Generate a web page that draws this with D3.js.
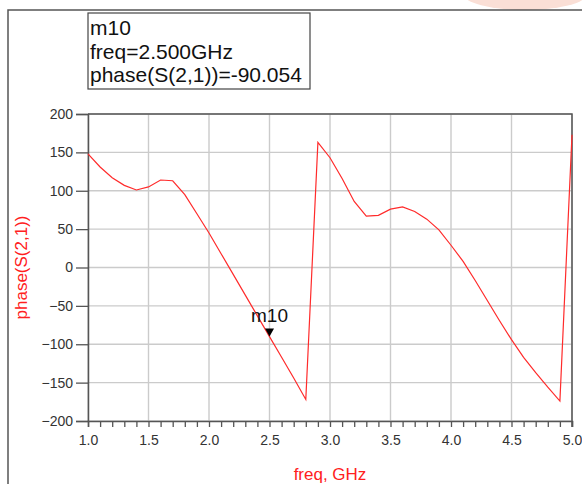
<!DOCTYPE html>
<html>
<head>
<meta charset="utf-8">
<script src="https://cdn.jsdelivr.net/npm/d3@7"></script>
<style>
  body { margin: 0; background: #fff; }
  svg { display: block; font-family: "Liberation Sans", Arial, sans-serif; }
</style>
</head>
<body>
<div id="chart"></div>
<script>
// frequency points (GHz) and phase(S(2,1)) in degrees
let freqs = [1.0, 1.1, 1.2, 1.3, 1.4, 1.5, 1.6, 1.7, 1.8, 1.9,
    2.0, 2.1, 2.2, 2.3, 2.4, 2.5, 2.6, 2.7, 2.8, 2.9,
    3.0, 3.1, 3.2, 3.3, 3.4, 3.5, 3.6, 3.7, 3.8, 3.9,
    4.0, 4.1, 4.2, 4.3, 4.4, 4.5, 4.6, 4.7, 4.8, 4.9, 5.0];
let phases = [148, 131, 117, 107, 101, 105, 114, 113, 95, 70,
    45, 18, -9, -36, -63, -90, -117, -144, -172, 163,
    143, 116, 86, 67, 68, 76, 79, 73, 63, 49,
    29, 8, -17, -43, -69, -94, -117, -137, -156, -174, 173];

let xTicks = [1.0, 1.5, 2.0, 2.5, 3.0, 3.5, 4.0, 4.5, 5.0];
let yTicks = [-200, -150, -100, -50, 0, 50, 100, 150, 200];

// marker m10
let markerName = "m10";
let markerFreq = 2.5;
let markerPhase = -90.054;

var width = 582;
var height = 484;

var svg = d3.select("#chart")
    .append("svg")
    .attr("width", width)
    .attr("height", height);

// faint watermark blob at top right
svg.append("ellipse")
    .attr("cx", 525).attr("cy", -6)
    .attr("rx", 62).attr("ry", 16)
    .attr("fill", "#f7c9bb")
    .attr("opacity", 0.6);

// outer frame
svg.append("path")
    .attr("d", "M8,484 L8,10 L582,10")
    .attr("fill", "none")
    .attr("stroke", "#555")
    .attr("stroke-width", 1.5);

var x = d3.scaleLinear().domain([1, 5]).range([88, 572]);
var y = d3.scaleLinear().domain([-200, 200]).range([421, 114]);

// grid lines
svg.selectAll(".vgrid")
    .data(xTicks)
    .enter()
    .append("line")
    .attr("x1", d => x(d)).attr("x2", d => x(d))
    .attr("y1", y(200)).attr("y2", y(-200))
    .attr("stroke", "#cbcbcb")
    .attr("stroke-width", 1.4);

svg.selectAll(".hgrid")
    .data(yTicks)
    .enter()
    .append("line")
    .attr("x1", x(1)).attr("x2", x(5))
    .attr("y1", d => y(d)).attr("y2", d => y(d))
    .attr("stroke", "#cbcbcb")
    .attr("stroke-width", 1.4);

// y axis
var yAxis = d3.axisLeft(y)
    .tickValues(yTicks)
    .tickSize(12)
    .tickPadding(3)
    .tickFormat(d3.format("d"));

var gy = svg.append("g")
    .attr("transform", "translate(" + x(1) + ",0)")
    .call(yAxis);

// x axis with minor ticks every 0.1
var gx = svg.append("g")
    .attr("transform", "translate(0," + y(-200) + ")")
    .call(d3.axisBottom(x)
        .tickValues(freqs)
        .tickSize(6)
        .tickPadding(8)
        .tickFormat(d => xTicks.some(t => Math.abs(t - d) < 1e-9) ? d3.format(".1f")(d) : ""));

[gx, gy].forEach(g => {
    g.select(".domain").attr("stroke", "#555").attr("stroke-width", 1.5);
    g.selectAll(".tick line").attr("stroke", "#555").attr("stroke-width", 1.3);
    g.selectAll(".tick text")
        .attr("fill", "#333")
        .style("font-size", "14px")
        .style("font-family", "'Liberation Sans', Arial, sans-serif");
});

// top and right borders of the plot
svg.append("path")
    .attr("d", "M" + x(1) + "," + y(200) + " L" + x(5) + "," + y(200) + " L" + x(5) + "," + (y(-200) + 6))
    .attr("fill", "none")
    .attr("stroke", "#555")
    .attr("stroke-width", 1.5);

// curve
var line = d3.line()
    .x((d, i) => x(freqs[i]))
    .y(d => y(d));

svg.append("path")
    .datum(phases)
    .attr("d", line)
    .attr("fill", "none")
    .attr("stroke", "#ff2b2b")
    .attr("stroke-width", 1.2);

// marker triangle + label
var mx = x(markerFreq);
var my = y(markerPhase);
svg.append("path")
    .attr("d", "M" + (mx - 4.5) + "," + (my - 8) + " L" + (mx + 4.5) + "," + (my - 8) + " L" + mx + "," + my + " Z")
    .attr("fill", "#000");

svg.append("text")
    .attr("x", mx)
    .attr("y", my - 15)
    .attr("text-anchor", "middle")
    .style("font-size", "19px")
    .attr("fill", "#111")
    .text(markerName);

// marker readout box
svg.append("rect")
    .attr("x", 88).attr("y", 13)
    .attr("width", 222).attr("height", 76)
    .attr("fill", "#fff")
    .attr("stroke", "#444")
    .attr("stroke-width", 1.2);

var readout = [markerName,
    "freq=" + markerFreq.toFixed(3) + "GHz",
    "phase(S(2,1))=" + markerPhase.toFixed(3)];

svg.selectAll(".readout")
    .data(readout)
    .enter()
    .append("text")
    .attr("x", 90)
    .attr("y", (d, i) => 35 + i * 23.5)
    .style("font-size", "21px")
    .attr("fill", "#111")
    .text(d => d);

// axis titles
svg.append("text")
    .attr("transform", "translate(27," + y(0) + ") rotate(-90)")
    .attr("text-anchor", "middle")
    .style("font-size", "17px")
    .attr("fill", "#ff2020")
    .text("phase(S(2,1))");

svg.append("text")
    .attr("x", 330)
    .attr("y", 480)
    .attr("text-anchor", "middle")
    .style("font-size", "17px")
    .attr("fill", "#ff2020")
    .text("freq, GHz");
</script>
</body>
</html>
